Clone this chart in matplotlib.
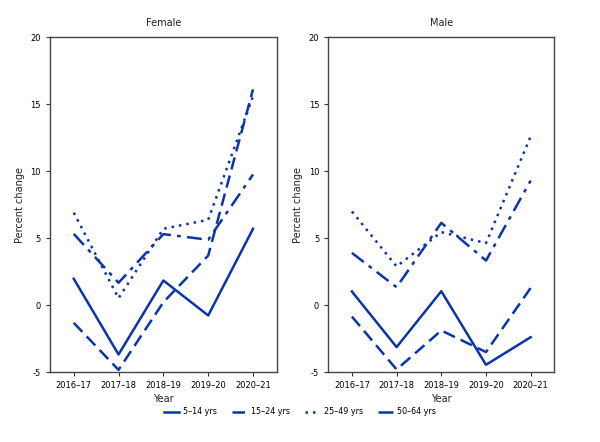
import matplotlib
matplotlib.use("Agg")
import matplotlib.pyplot as plt

years = ["2016\u201317", "2017\u201318", "2018\u201319", "2019\u201320", "2020\u201321"]
groups = ["5\u201314 yrs", "15\u201324 yrs", "25\u201349 yrs", "50\u201364 yrs"]

female_5_14 = [1.97, -3.68, 1.84, -0.77, 5.7]
female_15_24 = [-1.32, -4.83, 0.22, 3.7, 16.1]
female_25_49 = [6.9, 0.52, 5.7, 6.37, 15.6]
female_50_64 = [5.32, 1.67, 5.3, 4.88, 9.75]

male_5_14 = [1.02, -3.13, 1.04, -4.45, -2.39]
male_15_24 = [-0.85, -4.8, -1.89, -3.5, 1.29]
male_25_49 = [6.99, 2.89, 5.45, 4.63, 12.6]
male_50_64 = [3.9, 1.34, 6.14, 3.33, 9.3]

color = "#0a35a8"
styles = ["-", (0, (5, 2.5)), (0, (1, 2)), (0, (6, 2.5, 1.5, 2.5))]

fig = plt.figure(figsize=(6, 4.42), dpi=100)
ax1 = fig.add_axes([0.0833, 0.158, 0.378, 0.758])
ax2 = fig.add_axes([0.547, 0.158, 0.377, 0.758])

panels = [
    (ax1, "Female", [female_5_14, female_15_24, female_25_49, female_50_64]),
    (ax2, "Male", [male_5_14, male_15_24, male_25_49, male_50_64]),
]

for ax, title, series in panels:
    x = range(len(years))
    for vals, ls, lab in zip(series, styles, groups):
        ax.plot(x, vals, color=color, linestyle=ls, linewidth=1.8, label=lab)
    ax.set_xlim(-0.53, 4.53)
    ax.set_ylim(-5, 20)
    ax.set_yticks([-5, 0, 5, 10, 15, 20])
    ax.set_yticklabels(["-5", "0", "5", "10", "15", "20"])
    ax.set_xticks(list(x))
    ax.set_xticklabels(years)
    ax.tick_params(labelsize=6, length=3, color="#333333", width=0.8)
    ax.set_title(title, fontsize=7, pad=8, color="#222222")
    ax.set_xlabel("Year", fontsize=7, color="#222222", labelpad=3)
    ax.set_ylabel("Percent change", fontsize=7, color="#222222")
    for sp in ax.spines.values():
        sp.set_color("#444444")
        sp.set_linewidth(1.0)

handles, labels = ax1.get_legend_handles_labels()
fig.legend(handles, labels, loc="center", bbox_to_anchor=(0.5, 0.068), ncol=4,
           frameon=False, fontsize=5.8, handlelength=1.9, handletextpad=0.5,
           columnspacing=1.8)

fig.savefig("out.png", dpi=100)
